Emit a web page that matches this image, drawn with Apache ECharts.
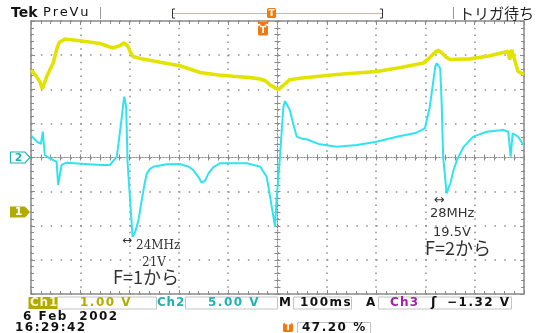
<!DOCTYPE html>
<html><head><meta charset="utf-8">
<script src="https://cdn.jsdelivr.net/npm/echarts@6/dist/echarts.min.js"></script>
<style>html,body{margin:0;padding:0;background:#fff}#c{width:537px;height:333px}</style>
</head><body><div id="c"></div>
<script>
// ---- data (time in ms, 100 ms/div; Ch1 in V, Ch2 in V) ----
const ch1Time = [0,10,18,23,32,45,52,57,69,99,140,166,181,189,197,201,207,221,241,262,302,343,380,410,445,465,475,485,502,513,525,545,620,701,750,796,809,819,826,831,841,850,891,931,958,968,971,975,982,988,1000];
const ch1Volts = [4.17,4.00,3.82,3.61,3.98,4.37,4.76,4.97,5.07,5.02,4.94,4.81,4.88,4.96,4.85,4.70,4.56,4.50,4.45,4.39,4.29,4.09,4.02,3.98,3.94,3.90,3.85,3.73,3.59,3.73,3.88,3.92,4.03,4.12,4.24,4.37,4.53,4.68,4.74,4.70,4.55,4.47,4.49,4.58,4.68,4.71,4.47,4.76,4.41,4.12,4.03];
const ch2Time = [1,12,20,24,28,38,52,55,62,72,140,160,174,181,189,193,196,201,206,211,218,224,230,235,241,248,275,302,320,329,340,346,353,360,370,383,438,465,478,485,495,498,505,512,515,525,532,539,552,559,586,620,661,701,742,782,799,809,820,823,830,833,836,843,847,851,857,865,878,897,924,958,968,973,977,988,999];
const ch2Volts = [3.15,2.32,1.98,3.78,0.37,-0.12,-0.62,-4.03,-1.10,-0.76,-1.10,-1.10,0.12,4.03,8.91,7.45,-0.85,-6.23,-11.61,-11.00,-9.16,-6.50,-4.00,-2.32,-1.70,-1.35,-1.00,-0.95,-1.35,-1.83,-2.90,-3.69,-3.40,-2.32,-1.40,-0.85,-0.85,-1.35,-2.81,-5.75,-10.14,-6.23,0.12,7.45,8.28,6.96,4.90,3.05,2.70,2.67,1.93,1.58,1.83,2.32,3.05,3.64,4.28,7.45,13.31,13.81,13.08,7.95,0.12,-5.25,-5.50,-3.70,-1.83,-0.20,1.60,3.05,3.78,4.03,3.78,0.12,3.55,3.05,1.83];
const ch1Scale = 1.0;   // V/div
const ch1Ground = -1.6; // div from centre
const ch2Scale = 5.0;
const ch2Ground = 0;
const timeRange = [0, 1000];

const GC = '#8a8a8a';
function divAxis(dim, extra) {
  const base = {
    type: 'value', min: dim === 'x' ? -5 : -4, max: dim === 'x' ? 5 : 4, interval: 1,
    axisLabel: { show: false }, splitLine: { show: false },
    axisLine: { show: true, onZero: false, lineStyle: { color: GC, width: 1.5 } },
    axisTick: { show: true, inside: true, length: 4, lineStyle: { color: GC } },
    minorTick: { show: true, splitNumber: 5, length: 3, lineStyle: { color: GC } }
  };
  return Object.assign(base, extra);
}
const centreLine = { show: true, onZero: true, onZeroAxisIndex: 0, lineStyle: { color: GC, width: 1, type: [1, 2] } };

const chart = echarts.init(document.getElementById('c'), null, { renderer: 'canvas' });
const option = {
  animation: false,
  backgroundColor: '#ffffff',
  grid: { left: 31, top: 21, width: 493, height: 273 },
  xAxis: [
    divAxis('x', { position: 'bottom', splitLine: { show: true, lineStyle: { color: '#8c8c8c', width: 1.5, type: [1.5, 5.3] } } }),
    divAxis('x', { position: 'top' }),
    divAxis('x', { position: 'bottom', axisLine: centreLine, axisTick: { show: true, inside: true, length: 3, lineStyle: { color: GC } }, minorTick: { show: true, splitNumber: 5, length: 3, lineStyle: { color: GC } } }),
    divAxis('x', { position: 'bottom', axisLine: centreLine, axisTick: { show: true, inside: false, length: 3, lineStyle: { color: GC } }, minorTick: { show: true, splitNumber: 5, length: 3, lineStyle: { color: GC } } }),
    { type: 'value', min: timeRange[0], max: timeRange[1], show: false }
  ],
  yAxis: [
    divAxis('y', { position: 'left', splitLine: { show: true, lineStyle: { color: '#8c8c8c', width: 1.5, type: [1.5, 8.36] } } }),
    divAxis('y', { position: 'right' }),
    divAxis('y', { position: 'left', axisLine: centreLine, axisTick: { show: true, inside: true, length: 3, lineStyle: { color: GC } }, minorTick: { show: true, splitNumber: 5, length: 3, lineStyle: { color: GC } } }),
    divAxis('y', { position: 'left', axisLine: centreLine, axisTick: { show: true, inside: false, length: 3, lineStyle: { color: GC } }, minorTick: { show: true, splitNumber: 5, length: 3, lineStyle: { color: GC } } }),
    { type: 'value', min: (-4 - ch1Ground) * ch1Scale, max: (4 - ch1Ground) * ch1Scale, show: false },
    { type: 'value', min: (-4 - ch2Ground) * ch2Scale, max: (4 - ch2Ground) * ch2Scale, show: false }
  ],
  series: [
    { name: 'Ch1', type: 'line', xAxisIndex: 4, yAxisIndex: 4, symbol: 'none', z: 3,
      data: ch1Time.map((t, i) => [t, ch1Volts[i]]), lineStyle: { color: '#e3e300', width: 3.6 } },
    { name: 'Ch2', type: 'line', xAxisIndex: 4, yAxisIndex: 5, symbol: 'none', z: 4,
      data: ch2Time.map((t, i) => [t, ch2Volts[i]]), lineStyle: { color: '#2fe4f0', width: 2 } }
  ]
};
chart.setOption(option);

// ---- decorations ----
const mctx = document.createElement('canvas').getContext('2d');
function spaced(str, x, y, font, fill, sp) {
  mctx.font = font;
  const out = []; let cx = x;
  for (const ch of str) {
    out.push({ type: 'text', silent: true, z: 10, style: { text: ch, x: cx, y: y, font: font, fill: fill, verticalAlign: 'middle' } });
    cx += mctx.measureText(ch).width + sp;
  }
  return out;
}
function txt(str, x, y, font, fill, align) {
  return { type: 'text', silent: true, z: 10, style: { text: str, x: x, y: y, font: font, fill: fill, align: align || 'left', verticalAlign: 'middle' } };
}
function box(x, y, w, h, stroke, fill) {
  return { type: 'rect', silent: true, z: 9, shape: { x: x, y: y, width: w, height: h }, style: { fill: fill || 'none', stroke: stroke || 'none', lineWidth: 1 } };
}
function tIcon(x, y, w, h) {
  return [
    { type: 'rect', silent: true, z: 10, shape: { x: x, y: y, width: w, height: h, r: 1.5 }, style: { fill: '#f07a12' } },
    txt('T', x + w / 2, y + h / 2 + 0.5, 'bold 9px "DejaVu Sans"', '#ffffff', 'center')
  ];
}
const ST = 'bold 12px "DejaVu Sans"';
const y1 = chart.convertToPixel({ yAxisIndex: 4 }, 0);
const y2 = chart.convertToPixel({ yAxisIndex: 5 }, 0);
const OL = '#b2aa00', TL = '#1fb3b3';
let g = [];
// top bar
g.push(txt('Tek', 11, 13.5, 'bold 14px "DejaVu Sans"', '#111'));
g = g.concat(spaced('PreVu', 43, 13, '13px "DejaVu Sans"', '#111', 1.8));
g.push({ type: 'line', silent: true, shape: { x1: 100.5, y1: 7, x2: 100.5, y2: 19 }, style: { stroke: '#999', lineWidth: 1 } });
g.push({ type: 'line', silent: true, shape: { x1: 173, y1: 13.5, x2: 382, y2: 13.5 }, style: { stroke: '#c8c078', lineWidth: 1.2 } });
g.push({ type: 'polyline', silent: true, shape: { points: [[175, 9], [172.5, 9], [172.5, 18], [175, 18]] }, style: { stroke: '#333', lineWidth: 1, fill: 'none' } });
g.push({ type: 'polyline', silent: true, shape: { points: [[380, 9], [382.5, 9], [382.5, 18], [380, 18]] }, style: { stroke: '#333', lineWidth: 1, fill: 'none' } });
g = g.concat(tIcon(267, 8, 9, 10));
g.push({ type: 'polygon', silent: true, z: 10, shape: { points: [[257, 22], [269, 22], [263, 26.5]] }, style: { fill: '#f07a12' } });
g = g.concat(tIcon(258, 25.5, 10, 10));
g.push({ type: 'line', silent: true, shape: { x1: 453.5, y1: 7, x2: 453.5, y2: 19 }, style: { stroke: '#999', lineWidth: 1 } });
g.push(txt('トリガ待ち', 459, 13, '15px "Noto Sans CJK JP"', '#222'));
// channel markers
g.push({ type: 'polygon', silent: true, z: 10, shape: { points: [[10.5, y2 - 5.5], [25, y2 - 5.5], [30, y2], [25, y2 + 5.5], [10.5, y2 + 5.5]] }, style: { fill: '#ffffff', stroke: TL, lineWidth: 1.2 } });
g.push(txt('2', 18.5, y2 + 0.5, 'bold 11px "DejaVu Sans"', TL, 'center'));
g.push({ type: 'polygon', silent: true, z: 10, shape: { points: [[10, y1 - 5.5], [25, y1 - 5.5], [30, y1], [25, y1 + 5.5], [10, y1 + 5.5]] }, style: { fill: OL } });
g.push(txt('1', 18.5, y1 + 0.5, 'bold 11px "DejaVu Sans"', '#ffffff', 'center'));
// annotations
g.push(txt('↔', 122, 241, '12px "DejaVu Sans"', '#333'));
g.push(txt('24MHz', 136, 246, '12px "DejaVu Serif"', '#333'));
g.push(txt('21V', 142, 263, '12px "DejaVu Serif"', '#333'));
g.push(txt('F=1から', 113, 277, '18px "Noto Sans CJK JP"', '#333'));
g.push(txt('↔', 434, 201, '13px "DejaVu Sans"', '#333'));
g.push(txt('28MHz', 430, 214, '13px "DejaVu Sans"', '#333'));
g.push(txt('19.5V', 433, 233, '13px "DejaVu Sans"', '#333'));
g.push(txt('F=2から', 425, 248, '18px "Noto Sans CJK JP"', '#333'));
// status bar
const sy = 303;
g.push(box(28.5, 297, 29, 12, null, OL));
g = g.concat(spaced('Ch1', 30, sy, ST, '#f6f4c8', 0.8));
g.push(box(57.5, 297, 99, 12, '#c4c4c4'));
g = g.concat(spaced('1.00 V', 80, sy, ST, OL, 1.5));
g = g.concat(spaced('Ch2', 157, sy, ST, TL, 0.8));
g.push(box(185.5, 297, 92, 12, '#c4c4c4'));
g = g.concat(spaced('5.00 V', 208, sy, ST, TL, 1.5));
g.push(txt('M', 279, sy, ST, '#111'));
g.push(box(293.5, 297, 58, 12, '#c4c4c4'));
g = g.concat(spaced('100ms', 300, sy, ST, '#111', 1.5));
g.push(txt('A', 366, sy, ST, '#111'));
g.push(box(378.5, 297, 133, 12, '#c4c4c4'));
g = g.concat(spaced('Ch3', 390, sy, ST, '#a322a8', 1.2));
g.push(txt('ʃ', 431, sy, 'bold 13px "DejaVu Sans"', '#111'));
g = g.concat(spaced('−1.32 V', 447, sy, ST, '#111', 1.5));
// bottom info
g = g.concat(spaced('6 Feb  2002', 23, 316.5, ST, '#111', 1.5));
g = g.concat(spaced('16:29:42', 15, 327.5, ST, '#111', 1.5));
g = g.concat(tIcon(283, 323, 10, 9));
g.push(box(297.5, 322.5, 73, 11, '#c4c4c4'));
g = g.concat(spaced('47.20 %', 302, 328, ST, '#111', 1.5));
chart.setOption({ graphic: { elements: g } });
</script></body></html>
